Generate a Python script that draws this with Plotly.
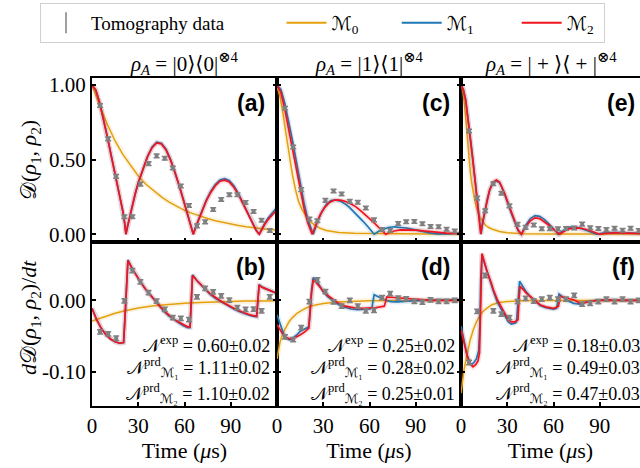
import plotly.graph_objects as go
from plotly.subplots import make_subplots

# ---------------- data ----------------
# sampling times of the tomography measurements (µs)
t_data = [5.2, 10.5, 15.7, 21.0, 26.2, 31.4, 36.7, 41.9, 47.2, 52.4, 57.6,
          62.9, 68.1, 73.4, 78.6, 83.8, 89.1, 94.3, 99.6, 104.8, 110.0, 115.3]

# trace distance D(rho1, rho2), measured
dist_a = [0.863, 0.639, 0.388, 0.117, 0.117, 0.336, 0.473, 0.525, 0.509, 0.444, 0.323,
          0.193, 0.056, 0.083, 0.166, 0.233, 0.265, 0.265, 0.213, 0.152, 0.094, 0.025]
dist_c = [0.844, 0.585, 0.299, 0.102, 0.090, 0.227, 0.290, 0.270, 0.220, 0.214, 0.176,
          0.096, 0.032, 0.025, 0.072, 0.084, 0.085, 0.070, 0.052, 0.050, 0.034, 0.022]
dist_e = [0.692, 0.242, 0.157, 0.338, 0.275, 0.190, 0.066, 0.046, 0.062, 0.037, 0.037,
          0.036, 0.039, 0.042, 0.068, 0.043, 0.038, 0.031, 0.040, 0.027, 0.040, 0.025]
# time derivative dD/dt, measured
rate_b = [-0.044, -0.047, -0.053, -0.0005, 0.042, 0.026, 0.011, -0.001, -0.0126, -0.024, -0.025,
          -0.027, 0.005, 0.017, 0.012, 0.0065, 0.0005, -0.010, -0.0126, -0.012, -0.0145, 0.005]
rate_d = [-0.051, -0.055, -0.038, -0.0015, 0.029, 0.0125, -0.002, -0.008, 0.0, -0.008, -0.0145,
          -0.014, 0.004, 0.0095, 0.0033, 0.0023, -0.0014, -0.0023, 0.0009, -0.0014, -0.0014, 0.0]
rate_f = [-0.087, -0.0154, 0.035, -0.0145, -0.019, -0.024, -0.0015, 0.003, -0.001, 0.002, 0.004,
          0.002, 0.002, 0.007, -0.005, -0.004, -0.0015, 0.002, -0.0015, 0.002, -0.0015, 0.0]
err_dist = 0.012
err_rate = 0.003

# ---- model curves, panel (a)
m0_a_t = [0, 5, 10, 15, 20, 25, 30, 35, 40, 45, 50, 55, 60, 65, 70, 75, 80, 85, 90, 95, 100, 105, 110, 115, 120]
m0_a = [1.0, 0.86, 0.735, 0.625, 0.535, 0.46, 0.39, 0.335, 0.29, 0.25, 0.215, 0.185, 0.16, 0.14,
        0.12, 0.105, 0.09, 0.078, 0.068, 0.058, 0.05, 0.043, 0.037, 0.032, 0.028]
m_a_t = [0, 2.5, 5, 7.5, 10, 12.5, 15, 17.5, 20, 21.2, 22, 23, 24.5, 26, 28, 30, 33, 36, 39, 42, 45, 48,
         51, 54, 57, 60, 62.5, 64.5, 65.7, 67, 69, 71, 74, 77, 80, 83, 86, 89, 92, 95, 98, 101, 104,
         106.5, 108.5, 110, 112, 114, 116, 118, 120]
m2_a = [1.0, 0.965, 0.88, 0.77, 0.65, 0.525, 0.405, 0.28, 0.155, 0.075, 0.0, 0.05, 0.12, 0.19, 0.27,
        0.345, 0.44, 0.52, 0.58, 0.612, 0.605, 0.565, 0.495, 0.41, 0.31, 0.205, 0.115, 0.045, 0.0,
        0.04, 0.095, 0.15, 0.22, 0.28, 0.325, 0.355, 0.362, 0.35, 0.315, 0.265, 0.205, 0.14, 0.075,
        0.025, 0.0, 0.03, 0.065, 0.095, 0.12, 0.145, 0.165]
m1_a = [1.0, 0.965, 0.88, 0.77, 0.65, 0.525, 0.405, 0.28, 0.155, 0.075, 0.0, 0.05, 0.12, 0.19, 0.27,
        0.345, 0.44, 0.52, 0.585, 0.617, 0.61, 0.57, 0.5, 0.412, 0.312, 0.207, 0.116, 0.045, 0.0,
        0.042, 0.098, 0.155, 0.226, 0.287, 0.333, 0.364, 0.372, 0.36, 0.325, 0.272, 0.21, 0.143, 0.077,
        0.026, 0.0, 0.035, 0.072, 0.105, 0.13, 0.157, 0.18]

# ---- model curves, panel (b)
m0_b_t = [0, 5, 10, 15, 20, 25, 30, 40, 50, 60, 70, 80, 90, 100, 110, 120]
m0_b = [-0.029, -0.025, -0.021, -0.018, -0.015, -0.0125, -0.0105, -0.0075, -0.0053, -0.0038,
        -0.0027, -0.0019, -0.0013, -0.0009, -0.0006, -0.0004]
m_b_t = [0, 3, 6, 9, 12, 15, 18, 20.5, 21.5, 22.5, 23.3, 26, 29, 32, 35, 38, 41, 44, 47, 50, 53, 56,
         59, 62, 63.6, 64.4, 65.2, 68, 71, 74, 77, 80, 83, 86, 89, 92, 95, 98, 101, 104, 106.8,
         107.6, 108.4, 111, 114, 117, 120]
m2_b = [-0.011, -0.027, -0.039, -0.048, -0.054, -0.058, -0.060, -0.059, -0.02, 0.03, 0.056, 0.045,
        0.034, 0.024, 0.015, 0.007, -0.001, -0.008, -0.015, -0.021, -0.026, -0.030, -0.034, -0.037,
        -0.037, 0.0, 0.035, 0.028, 0.021, 0.015, 0.009, 0.004, 0.0, -0.004, -0.008, -0.011, -0.014,
        -0.017, -0.019, -0.021, -0.022, 0.0, 0.021, 0.018, 0.015, 0.012, 0.010]
m1_b = [-0.011, -0.027, -0.039, -0.048, -0.054, -0.058, -0.060, -0.059, -0.02, 0.03, 0.057, 0.045,
        0.034, 0.024, 0.015, 0.007, -0.001, -0.009, -0.016, -0.022, -0.027, -0.031, -0.035, -0.038,
        -0.038, 0.0, 0.036, 0.028, 0.021, 0.014, 0.008, 0.003, -0.001, -0.005, -0.009, -0.012, -0.015,
        -0.018, -0.020, -0.022, -0.023, 0.0, 0.022, 0.018, 0.015, 0.012, 0.010]

# ---- model curves, panel (c)
m0_c_t = [0, 1, 2, 3, 4, 5, 6, 7, 8, 9, 10, 12, 14, 16, 18, 20, 24, 28, 32, 40, 50, 60, 80, 100, 120]
m0_c = [0.98, 0.96, 0.92, 0.87, 0.80, 0.73, 0.66, 0.59, 0.52, 0.46, 0.40, 0.30, 0.22, 0.17, 0.13,
        0.10, 0.065, 0.04, 0.025, 0.012, 0.006, 0.004, 0.003, 0.002, 0.002]
m2_c_t = [0, 2.5, 5, 7.5, 10, 12.5, 15, 17.5, 20, 21.5, 22.8, 24, 25.5, 28, 31, 34, 37, 39, 42, 45,
          48, 51, 54, 57, 60, 63, 66, 68.5, 70.6, 73, 76, 80, 85, 90, 95, 100, 105, 110, 115, 120]
m2_c = [1.0, 0.95, 0.84, 0.71, 0.58, 0.44, 0.30, 0.175, 0.075, 0.03, 0.0, 0.03, 0.07, 0.13, 0.18,
        0.213, 0.228, 0.23, 0.227, 0.218, 0.203, 0.185, 0.16, 0.135, 0.105, 0.076, 0.045, 0.02, 0.0,
        0.012, 0.022, 0.029, 0.031, 0.028, 0.022, 0.016, 0.011, 0.008, 0.006, 0.005]
m1_c_t = [0, 2.5, 5, 7.5, 10, 12.5, 15, 17.5, 20, 22, 23.5, 25, 26, 29, 32, 35, 38, 41, 44, 47, 50,
          53, 56, 59, 61.5, 63, 66, 69, 72, 76, 80, 84, 88, 92, 96, 100, 104, 107, 110, 115, 120]
m1_c = [1.0, 0.97, 0.88, 0.76, 0.63, 0.49, 0.345, 0.21, 0.10, 0.035, 0.0, 0.045, 0.08, 0.15, 0.20,
        0.225, 0.23, 0.222, 0.205, 0.18, 0.15, 0.118, 0.085, 0.05, 0.02, 0.0, 0.02, 0.035, 0.045,
        0.05, 0.048, 0.042, 0.033, 0.024, 0.015, 0.008, 0.003, 0.001, 0.003, 0.006, 0.008]

# ---- model curves, panel (d)
m0_d_t = [0, 1, 2, 4, 6, 8, 10, 13, 16, 20, 25, 30, 40, 50, 60, 80, 120]
m0_d = [-0.082, -0.068, -0.058, -0.045, -0.036, -0.029, -0.024, -0.018, -0.014, -0.0095, -0.0062,
        -0.0042, -0.002, -0.001, -0.0005, -0.0002, 0.0]
m2_d_t = [0, 2, 4, 6, 8.7, 11, 13, 15.2, 18, 20.6, 21.4, 22.4, 23.5, 25, 27, 30, 33, 37, 40, 43.5,
          48, 52, 56, 60, 64, 67, 69.6, 70.4, 71.2, 74, 77, 80, 85, 90, 95, 100, 110, 120]
m2_d = [-0.034, -0.042, -0.048, -0.052, -0.054, -0.053, -0.051, -0.048, -0.044, -0.039, -0.02, 0.01,
        0.028, 0.026, 0.021, 0.013, 0.007, 0.0, -0.004, -0.0075, -0.0095, -0.011, -0.011, -0.011,
        -0.01, -0.009, -0.008, -0.002, 0.005, 0.0045, 0.004, 0.003, 0.002, 0.001, 0.0005, 0.0, 0.0, 0.0]
m1_d_t = [0, 2, 4, 6, 7.6, 9, 11, 13, 15.2, 18, 20.6, 21.4, 22.4, 23.5, 25, 27, 30, 33, 37, 40, 43.5,
          48, 52, 56, 60, 61.5, 62.3, 63, 65, 68, 71, 74, 78, 85, 95, 105, 120]
m1_d = [-0.020, -0.033, -0.045, -0.053, -0.055, -0.055, -0.052, -0.048, -0.043, -0.04, -0.037,
        -0.015, 0.015, 0.032, 0.029, 0.023, 0.012, 0.005, -0.002, -0.006, -0.009, -0.012, -0.013,
        -0.013, -0.012, -0.011, 0.0, 0.008, 0.006, 0.003, 0.0, -0.0015, -0.002, -0.001, 0.0005,
        0.001, 0.0005]

# ---- model curves, panel (e)
m0_e_t = [0, 1, 2, 3, 4, 5, 6, 7, 8, 9, 10, 12, 14, 16, 18, 20, 25, 30, 40, 60, 120]
m0_e = [1.0, 0.97, 0.9, 0.78, 0.64, 0.52, 0.42, 0.34, 0.27, 0.22, 0.18, 0.12, 0.085, 0.06, 0.045,
        0.035, 0.018, 0.01, 0.004, 0.002, 0.001]
m2_e_t = [0, 1.5, 3, 4.5, 6, 7.5, 9, 10.5, 12, 12.8, 14, 15.5, 17, 18.6, 20.8, 23, 25, 26.5, 28.5,
          30.5, 32.5, 34.8, 37, 39.2, 42, 45, 48, 51, 54, 57, 60, 62.5, 64, 67, 70, 74, 78, 82, 86,
          90, 94, 98, 102, 106, 110, 115, 120]
m2_e = [1.0, 0.97, 0.90, 0.78, 0.64, 0.51, 0.37, 0.22, 0.08, 0.0, 0.08, 0.16, 0.24, 0.30, 0.35,
        0.363, 0.35, 0.32, 0.27, 0.21, 0.15, 0.087, 0.03, 0.0, 0.05, 0.09, 0.11, 0.105, 0.085, 0.06,
        0.033, 0.012, 0.0, 0.02, 0.036, 0.043, 0.04, 0.03, 0.015, 0.0, 0.006, 0.01, 0.01, 0.008,
        0.005, 0.004, 0.004]
m1_e_t = [0, 1.5, 3, 4.5, 6, 7.5, 9, 10.5, 12, 13, 14, 15.5, 17, 18.6, 20.8, 23, 25, 26.5, 28.5,
          30.5, 32.5, 34.8, 37, 39.2, 42, 45, 48, 51, 54, 57, 60, 62, 63, 66, 69, 72, 75, 78, 82, 86,
          88, 92, 96, 100, 105, 110, 120]
m1_e = [1.0, 0.97, 0.905, 0.79, 0.655, 0.52, 0.38, 0.23, 0.09, 0.0, 0.07, 0.155, 0.235, 0.295,
        0.345, 0.358, 0.345, 0.315, 0.265, 0.205, 0.145, 0.08, 0.025, 0.0, 0.06, 0.105, 0.125, 0.12,
        0.10, 0.07, 0.04, 0.015, 0.0, 0.025, 0.045, 0.05, 0.047, 0.038, 0.022, 0.006, 0.0, 0.008,
        0.012, 0.012, 0.009, 0.006, 0.004]

# ---- model curves, panel (f)
m0_f_t = [0, 0.5, 1, 2, 3, 4, 5, 6, 8, 10, 12, 14, 16, 18, 20, 25, 30, 40, 50, 120]
m0_f = [-0.13, -0.12, -0.112, -0.097, -0.085, -0.074, -0.064, -0.055, -0.041, -0.030, -0.022,
        -0.016, -0.012, -0.0085, -0.006, -0.003, -0.0015, -0.0005, 0.0, 0.0]
m2_f_t = [0, 2, 4, 6, 7.8, 9.5, 11, 12, 12.6, 13.1, 13.6, 15, 17, 19.7, 21, 23.8, 26, 28.4, 30.7,
          32.7, 35, 36.1, 37, 37.6, 38.3, 40, 42, 44.8, 48, 51.3, 55, 60, 63.2, 63.8, 64.3, 66, 68.6,
          71, 73, 77.3, 82, 88, 95, 105, 120]
m2_f = [-0.041, -0.062, -0.078, -0.089, -0.093, -0.090, -0.085, -0.074, -0.03, 0.03, 0.066, 0.055,
        0.040, 0.024, 0.015, 0.0, -0.009, -0.019, -0.027, -0.030, -0.030, -0.028, -0.027, 0.0, 0.020,
        0.016, 0.011, 0.0056, 0.0, -0.006, -0.009, -0.011, -0.0084, 0.0, 0.0056, 0.005, 0.004, 0.002,
        0.001, -0.0037, -0.0023, 0.0, 0.0005, 0.0, 0.0]
m1_f_t = [0, 2, 4, 6, 6.7, 8, 10, 11.5, 12.3, 12.8, 13.6, 15, 17, 19.7, 21, 23.5, 26, 28.4, 30.7,
          32.7, 35, 36, 36.8, 37.4, 38, 40, 42, 44.8, 48, 51.3, 55, 60, 62, 62.8, 63.6, 66, 68.6, 71,
          73, 77.3, 82, 88, 95, 105, 120]
m1_f = [-0.036, -0.058, -0.077, -0.088, -0.090, -0.088, -0.082, -0.07, -0.03, 0.03, 0.064, 0.054,
        0.039, 0.022, 0.013, -0.002, -0.012, -0.022, -0.030, -0.033, -0.032, -0.030, 0.0, 0.02,
        0.027, 0.02, 0.013, 0.006, -0.001, -0.007, -0.01, -0.012, -0.011, 0.0, 0.009, 0.005, 0.0,
        -0.002, -0.004, -0.005, -0.002, 0.0, 0.001, 0.0, 0.0]

panel_titles = ["<i>ρ</i><sub><i>A</i></sub> = |0⟩⟨0|<sup>⊗4</sup>",
                "<i>ρ</i><sub><i>A</i></sub> = |1⟩⟨1|<sup>⊗4</sup>",
                "<i>ρ</i><sub><i>A</i></sub> = | + ⟩⟨ + |<sup>⊗4</sup>"]
panel_tags = [["(a)", "(c)", "(e)"], ["(b)", "(d)", "(f)"]]
n_exp = ["0.60±0.02", "0.25±0.02", "0.18±0.03"]
n_m1 = ["1.11±0.02", "0.28±0.02", "0.49±0.03"]
n_m2 = ["1.10±0.02", "0.25±0.01", "0.47±0.03"]

# ---------------- styling ----------------
C_M0 = "#E5A00D"
C_M1 = "#1F77B4"
C_M2 = "#F0141E"
C_DATA = "#808080"
SERIF = "Liberation Serif, DejaVu Serif, DejaVu Sans, serif"
W, H = 640, 468
ML, MT, MB = 92, 78, 62
PW = W - ML          # plotting width in px
PH = H - MT - MB     # plotting height in px
PANEL = 185          # panel width in px
NB = "\u00a0"        # non-breaking space used to pad legend entries


def px_x(px):
    return (px - ML) / PW


def px_y(py):
    return (H - MB - py) / PH


fig = make_subplots(rows=2, cols=3, horizontal_spacing=0, vertical_spacing=0)

# legend-only entries
fig.add_trace(go.Scatter(x=[None], y=[None], mode="markers", name="Tomography data" + NB * 11,
                         marker=dict(symbol="line-ns", size=15, color=C_DATA,
                                     line=dict(color=C_DATA, width=1.5))))
for nm, col, pad in [("ℳ<sub>0</sub>", C_M0, 7), ("ℳ<sub>1</sub>", C_M1, 8),
                     ("ℳ<sub>2</sub>", C_M2, 1)]:
    fig.add_trace(go.Scatter(x=[None], y=[None], mode="lines", name=nm + NB * pad,
                             line=dict(color=col, width=2)))


def add_curve(t, v, color, row, col, width=1.7):
    # soft halo (model uncertainty band) under the main line
    fig.add_trace(go.Scatter(x=t, y=v, mode="lines", showlegend=False, hoverinfo="skip",
                             line=dict(color=color, width=5), opacity=0.12), row=row, col=col)
    fig.add_trace(go.Scatter(x=t, y=v, mode="lines", showlegend=False,
                             line=dict(color=color, width=width)), row=row, col=col)


def add_data(v, err, row, col):
    fig.add_trace(go.Scatter(x=t_data, y=v, mode="markers", showlegend=False,
                             marker=dict(symbol="square", size=4, color=C_DATA),
                             error_y=dict(type="constant", value=err, color=C_DATA,
                                          thickness=1.5, width=3)), row=row, col=col)


panels = [
    (1, 1, (m0_a_t, m0_a), (m_a_t, m1_a), (m_a_t, m2_a), dist_a, err_dist),
    (1, 2, (m0_c_t, m0_c), (m1_c_t, m1_c), (m2_c_t, m2_c), dist_c, err_dist),
    (1, 3, (m0_e_t, m0_e), (m1_e_t, m1_e), (m2_e_t, m2_e), dist_e, err_dist),
    (2, 1, (m0_b_t, m0_b), (m_b_t, m1_b), (m_b_t, m2_b), rate_b, err_rate),
    (2, 2, (m0_d_t, m0_d), (m1_d_t, m1_d), (m2_d_t, m2_d), rate_d, err_rate),
    (2, 3, (m0_f_t, m0_f), (m1_f_t, m1_f), (m2_f_t, m2_f), rate_f, err_rate),
]

for row, col, c0, c1, c2, dat, err in panels:
    if row == 2:
        fig.add_hline(y=0, line=dict(color="red", dash="dot", width=1.2), layer="below",
                      row=row, col=col)
    add_curve(*c0, C_M0, row, col, width=1.5)
    add_curve(*c1, C_M1, row, col)
    add_curve(*c2, C_M2, row, col)
    add_data(dat, err, row, col)

# ---------------- axes ----------------
x_edges = [ML, ML + PANEL, ML + 2 * PANEL - 1, W]
px_per_us = PANEL / 120.0
tick_font = dict(family=SERIF, size=21, color="black")
for row in (1, 2):
    for col in (1, 2, 3):
        x0, x1 = x_edges[col - 1], x_edges[col]
        fig.update_xaxes(domain=[px_x(x0), px_x(x1)], range=[0, (x1 - x0) / px_per_us],
                         tickvals=[0, 30, 60, 90], ticktext=["0", "30", "60", "90"],
                         ticks="inside", ticklen=4, tickwidth=1.5, tickcolor="black",
                         showline=True, linecolor="black", linewidth=2, mirror=True,
                         showgrid=False, zeroline=False, showticklabels=(row == 2),
                         tickfont=tick_font, row=row, col=col)
        if row == 2:
            fig.update_xaxes(title=dict(text="Time (<i>μ</i>s)", font=dict(family=SERIF, size=22),
                                        standoff=2), row=row, col=col)
        if row == 1:
            yr, tv, tt = [-0.052, 1.047], [0, 0.5, 1.0], ["0.00", "0.50", "1.00"]
            dom = [0.5, 1.0]
        else:
            yr, tv, tt = [-0.148, 0.082], [-0.1, 0.0], ["-0.10", "0.00"]
            dom = [0.0, 0.5]
        fig.update_yaxes(domain=dom, range=yr, tickvals=tv, ticktext=tt,
                         ticks="inside", ticklen=4, tickwidth=1.5, tickcolor="black",
                         showline=True, linecolor="black", linewidth=2,
                         mirror=("ticks" if col < 3 else False),
                         showgrid=False, zeroline=False, showticklabels=(col == 1),
                         tickfont=tick_font, row=row, col=col)

# ---------------- annotations ----------------
ann = []
ann.append(dict(text="𝒟(<i>ρ</i><sub>1</sub>, <i>ρ</i><sub>2</sub>)", x=px_x(30), y=px_y(160),
                textangle=-90, font=dict(family=SERIF, size=22)))
ann.append(dict(text="<i>d</i>𝒟(<i>ρ</i><sub>1</sub>, <i>ρ</i><sub>2</sub>)/<i>dt</i>", x=px_x(30),
                y=px_y(318), textangle=-90, font=dict(family=SERIF, size=22)))
centers = [ML + PANEL / 2, ML + 1.5 * PANEL, ML + 2.5 * PANEL - 4]
for i, ttl in enumerate(panel_titles):
    ann.append(dict(text=ttl, x=px_x(centers[i]), y=px_y(63),
                    font=dict(family=SERIF, size=21)))
rights = [ML + PANEL, ML + 2 * PANEL, ML + 3 * PANEL]
for i in range(3):
    for r, yc in ((0, 102.5), (1, 266.5)):
        ann.append(dict(text="<b>" + panel_tags[r][i] + "</b>", x=px_x(rights[i] - 10),
                        y=px_y(yc), xanchor="right",
                        font=dict(family="Liberation Sans, Arial, sans-serif", size=23)))
    xr = px_x(rights[i] - 5.5)
    ann.append(dict(text="𝒩<sup>exp</sup> = " + n_exp[i], x=xr, y=px_y(344), xanchor="right",
                    font=dict(family=SERIF, size=18)))
    ann.append(dict(text="𝒩<sup>prd</sup><sub>ℳ₁</sub> = " + n_m1[i], x=xr, y=px_y(367),
                    xanchor="right", font=dict(family=SERIF, size=18)))
    ann.append(dict(text="𝒩<sup>prd</sup><sub>ℳ₂</sub> = " + n_m2[i], x=xr, y=px_y(393),
                    xanchor="right", font=dict(family=SERIF, size=18)))
for a in ann:
    a.update(xref="paper", yref="paper", showarrow=False)
    a.setdefault("yanchor", "middle")
    a.setdefault("xanchor", "center")

fig.update_layout(
    width=W, height=H,
    margin=dict(l=ML, r=0, t=MT, b=MB),
    paper_bgcolor="white", plot_bgcolor="white",
    font=dict(family=SERIF, size=19, color="black"),
    annotations=ann,
    legend=dict(orientation="h", xref="paper", yref="paper",
                x=px_x(40), y=px_y(3), xanchor="left", yanchor="top",
                bordercolor="#d0d0d0", borderwidth=1, bgcolor="white",
                font=dict(family=SERIF, size=19), itemwidth=40, tracegroupgap=0),
    showlegend=True,
)

fig.write_html("out.html")
